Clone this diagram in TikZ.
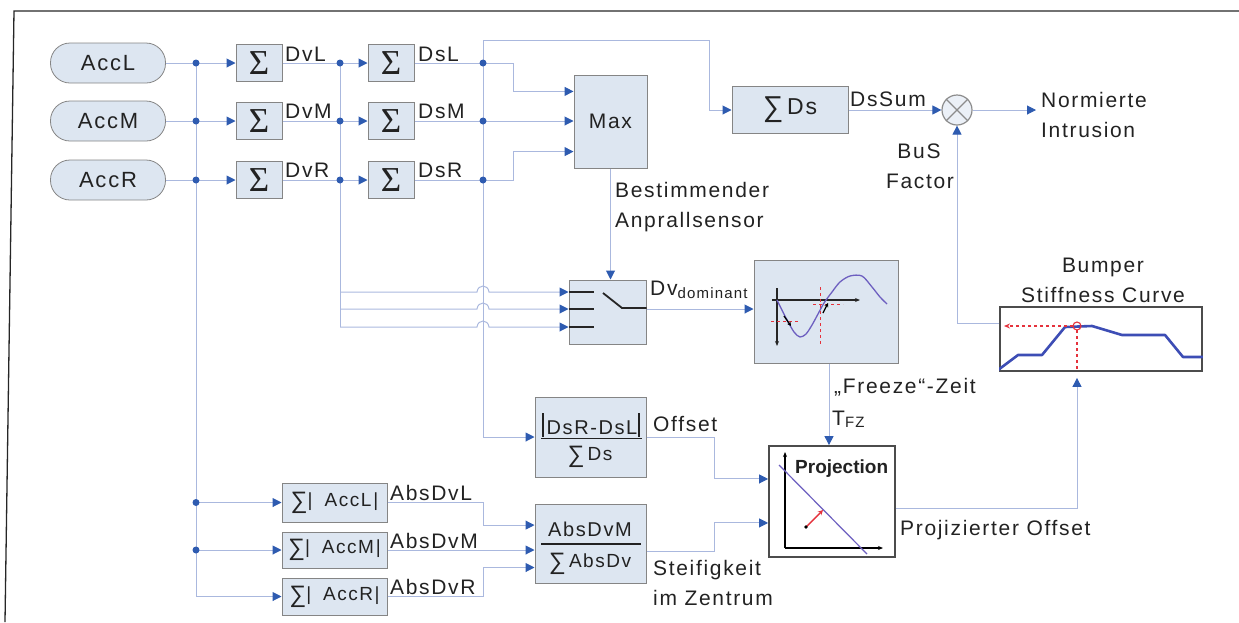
\documentclass[tikz,border=0pt]{standalone}
\usepackage{fontspec}
\usepackage{graphicx}
\setmainfont[LetterSpace=8]{Liberation Sans}
\newfontfamily\sigfont{Liberation Serif}
\newfontfamily\tightfont{Liberation Sans}
\usetikzlibrary{arrows.meta,calc}
\definecolor{wirec}{HTML}{AAB8DE}
\definecolor{arr}{HTML}{2E5BB0}
\definecolor{boxfill}{HTML}{DDE6F1}
\definecolor{boxdraw}{HTML}{858585}
\definecolor{txt}{HTML}{222222}
\definecolor{curve}{HTML}{6D5FC0}
\definecolor{bumpblue}{HTML}{3D4DB5}
\definecolor{redd}{HTML}{E5323C}
\newcommand{\fsz}[1]{\fontsize{#1}{#1}\selectfont}
\newcommand{\bigsum}{\raisebox{-2pt}{\scalebox{1.25}{∑}}}
\begin{document}
\begin{tikzpicture}[x=1pt,y=-1pt,
  inp/.style={draw=boxdraw, fill=boxfill, rounded corners=19.5pt, minimum width=115pt, minimum height=40pt, inner sep=0pt, line width=0.8pt, text=txt, font=\fsz{22}},
  blk/.style={draw=boxdraw, fill=boxfill, line width=1pt, inner sep=0pt, text=txt},
  sigbox/.style={blk, minimum width=46pt, minimum height=37pt, font=\sigfont\fsz{35}},
  absbox/.style={blk, minimum width=105pt, font=\fsz{19}},
  dark/.style={draw=black!70, line width=1.8pt, inner sep=0pt},
  wire/.style={draw=wirec, line width=1pt},
  arw/.style={wire, -{Triangle[length=9pt,width=9pt,color=arr]}},
  lbl/.style={inner sep=0pt, text=txt, font=\fsz{21}},
  tiny/.style={-{Stealth[length=5pt,width=4pt]}},
]
\useasboundingbox (0,0) rectangle (1239,622);
\draw[line width=1.3pt, black!85] (5,622) -- (14,11) -- (1239,11);

% ---------- nodes ----------
\node[inp] (accl) at (108,63) {AccL};
\node[inp] (accm) at (108,121) {AccM};
\node[inp] (accr) at (108,180) {AccR};

\node[sigbox] (s1l) at (259,63) {Σ};
\node[sigbox] (s1m) at (259,121) {Σ};
\node[sigbox] (s1r) at (259,180) {Σ};
\node[sigbox] (s2l) at (391,63) {Σ};
\node[sigbox] (s2m) at (391,121) {Σ};
\node[sigbox] (s2r) at (391,180) {Σ};

\node[blk, minimum width=73pt, minimum height=93pt, font=\fsz{21}] (max) at (610.5,121.5) {Max};
\node[blk, minimum width=116pt, minimum height=47pt, font=\fsz{23}] (sds) at (790,110) {\bigsum\,Ds};
\node[circle, draw=black!45, fill=boxfill!60, line width=1.2pt, minimum size=30pt, inner sep=0pt] (mul) at (957,110) {};
\draw[black!45, line width=1.2pt] (mul.north west) -- (mul.south east) (mul.north east) -- (mul.south west);

\node[blk, minimum width=77pt, minimum height=64pt] (sw) at (607.5,312) {};
\node[blk, minimum width=144pt, minimum height=103pt] (graph) at (826,311.5) {};
\node[dark, fill=white, minimum width=202pt, minimum height=64pt] (bump) at (1101,339) {};
\node[blk, minimum width=111pt, minimum height=80pt] (off) at (590.5,437) {};
\node[blk, minimum width=111pt, minimum height=79pt] (abm) at (590.5,543.5) {};
\node[dark, fill=white, minimum width=126pt, minimum height=111pt] (proj) at (832,501.5) {};

\node[absbox, minimum height=39pt] (sal) at (334.5,502.5) {\bigsum|\hspace{12pt}AccL\hspace{2pt}|};
\node[absbox, minimum height=36pt] (sam) at (334.5,550) {\bigsum|\hspace{12pt}AccM\hspace{2pt}|};
\node[absbox, minimum height=37pt] (sar) at (334.5,596.5) {\bigsum|\hspace{12pt}AccR|};

% ---------- junction coordinates ----------
\coordinate (j1l) at (196,63);  \coordinate (j1m) at (196,121); \coordinate (j1r) at (196,180);
\coordinate (j1a) at (196,502.5); \coordinate (j1b) at (196,550); \coordinate (j1c) at (196,596.5);
\coordinate (j2l) at (340,63);  \coordinate (j2m) at (340,121); \coordinate (j2r) at (340,180);
\coordinate (j2a) at (340,292); \coordinate (j2b) at (340,309); \coordinate (j2c) at (340,327);
\coordinate (j3t) at (483,40);  \coordinate (j3l) at (483,63);  \coordinate (j3m) at (483,121);
\coordinate (j3r) at (483,180); \coordinate (j3c) at (483,437);
\coordinate (fz) at (829,0);
\coordinate (nout) at (1036,110);

% ---------- wires ----------
\draw[wire] (accl) -- (j1l);
\draw[wire] (accm) -- (j1m);
\draw[wire] (accr) -- (j1r);
\draw[wire] (j1l) -- (j1c);
\draw[arw] (j1l) -- (s1l);
\draw[arw] (j1m) -- (s1m);
\draw[arw] (j1r) -- (s1r);
\draw[arw] (j1a) -- (sal);
\draw[arw] (j1b) -- (sam);
\draw[arw] (j1c) -- (sar);

\draw[wire] (s1l) -- (j2l);
\draw[wire] (s1m) -- (j2m);
\draw[wire] (s1r) -- (j2r);
\draw[wire] (j2l) -- (j2c);
\draw[arw] (j2l) -- (s2l);
\draw[arw] (j2m) -- (s2m);
\draw[arw] (j2r) -- (s2r);

\draw[wire] (s2l) -- (j3l);
\draw[wire] (s2m) -- (j3m);
\draw[wire] (s2r) -- (j3r);
\draw[wire] (j3t) -- (j3c);
\draw[arw] (j3t) -| ($(sds.west)+(-22,0)$) -- (sds.west);
\draw[arw] (j3l) -- ++(30,0) |- ($(max.north west)!0.18!(max.south west)$);
\draw[arw] (j3m) -- (max.west |- j3m);
\draw[arw] (j3r) -- ++(30,0) |- ($(max.north west)!0.82!(max.south west)$);
\draw[arw] (j3c) -- (off.west |- j3c);

\draw[arw] (max.south) -- (max.south |- sw.north);
\foreach \p in {j2a,j2b,j2c}{
  \draw[arw] (\p) -- ($(j3l |- \p)+(-6,0)$) .. controls +(1,-8) and +(-1,-8) .. ($(j3l |- \p)+(6,0)$) -- (sw.west |- \p);
}
\draw[arw] (sw.east |- j2b) -- (graph.west |- j2b);
\draw[arw] (graph.south -| fz) -- (proj.north -| fz);

\draw[arw] (sds) -- (mul);
\draw[arw] (mul) -- (nout);
\draw[arw] ($(bump.north west)!0.27!(bump.south west)$) -| (mul);

\draw[arw] (off.east) -- ++(68,0) |- ($(proj.north west)!0.3!(proj.south west)$);
\draw[arw] ($(abm.east)+(0,7.5)$) -- ++(68,0) |- ($(proj.north west)!0.69!(proj.south west)$);
\draw[arw, shorten >=6pt] ($(proj.east)+(0,6.5)$) -| ($(bump.south)+(-24,0)$);

\draw[arw] (sal.east) -- ++(96,0) |- ($(abm.north west)!0.27!(abm.south west)$);
\draw[arw] (sam.east) -- (abm.west |- sam.east);
\draw[arw] (sar.east) -- ++(96,0) |- ($(abm.north west)!0.8!(abm.south west)$);

\foreach \p in {j1l,j1m,j1r,j1a,j1b,j2l,j2m,j2r,j3l,j3m,j3r}
  \fill[arr] (\p) circle (3.5pt);

% ---------- switch interior ----------
\foreach \p in {j2a,j2b,j2c}
  \draw[black!85, line width=1.8pt] (sw.west |- \p) -- ++(25,0);
\draw[black!85, line width=1.8pt] (603,293) -- (622,308) -- (sw.east |- 0,308);

% ---------- graph interior ----------
\draw[black!85, line width=1.3pt, tiny] (777,288) -- (777,346);
\draw[black!85, line width=1.3pt, tiny] (772,300) -- (860,300);
\draw[redd, dashed, line width=1pt] (820,287) -- (820,346);
\draw[redd, dashed, line width=1pt] (771,321) -- (799,321);
\draw[redd, dashed, line width=1pt] (813,304) -- (843,304);
\draw[curve, line width=1.3pt] plot[smooth] coordinates {(777,300) (786,318) (794,332) (800,337) (806,334) (812,325) (818,314) (824,303) (832,292) (840,282) (850,276) (862,276) (872,287) (880,297) (887,304)};
\draw[black, line width=1.3pt, -{Stealth[length=4pt,width=4pt]}] (784,316) -- (791,326);
\draw[black, line width=1.3pt, -{Stealth[length=4pt,width=4pt]}] (823,313) -- (828,303);

% ---------- bumper interior ----------
\begin{scope}
\clip (bump.south west) rectangle (bump.north east);
\draw[bumpblue, line width=2.6pt, line join=round] (998,370) -- (1018,355) -- (1042,355) -- (1065,327) -- (1092,326) -- (1122,335) -- (1165,335) -- (1183,357) -- (1204,357);
\end{scope}
\draw[redd, dashed, line width=1.3pt, -{Stealth[length=6pt,width=5pt]}] (1073,326) -- (1004,326);
\draw[redd, dashed, line width=1.3pt] (1077,330) -- (bump.south -| 1077,0);
\draw[redd, line width=1.1pt] (1077,326) circle (4pt);

% ---------- projection interior ----------
\draw[black, line width=1.3pt, tiny] (785,548) -- (785,452);
\draw[black, line width=1.3pt, tiny] (785,548) -- (883,548);
\draw[curve, line width=1.2pt] (779,465) -- (867,554);
\draw[redd, line width=1.4pt, -{Stealth[length=5pt,width=5pt]}] (806,527) -- (823,510);
\fill[black] (806,527) circle (1.8pt);
\node[inner sep=0pt, anchor=base west, font=\tightfont\fsz{19}\bfseries, text=txt] (projt) at (795,473) {Projection};

% ---------- fraction boxes ----------
\node[lbl, anchor=base, font=\fsz{20}] (offn) at (592,434) {DsR-DsL};
\draw[txt, line width=2.2pt] (543,413) -- (543,437) (639,413) -- (639,437);
\draw[txt, line width=1.4pt] (541,438.5) -- (642,438.5);
\node[lbl, anchor=base, font=\fsz{19}] (offd) at (590,460) {\bigsum\,Ds};

\node[lbl, anchor=base, font=\fsz{20}] (abmn) at (590,536) {AbsDvM};
\draw[txt, line width=1.4pt] (541,544) -- (641,544);
\node[lbl, anchor=base, font=\fsz{19}] (abmd) at (590,567) {\bigsum\,AbsDv};

% ---------- labels ----------
\node[lbl, anchor=base west] (ldvl) at (285,61) {DvL};
\node[lbl, anchor=base west] (ldvm) at (285,118) {DvM};
\node[lbl, anchor=base west] (ldvr) at (285,177) {DvR};
\node[lbl, anchor=base west] (ldsl) at (418,61) {DsL};
\node[lbl, anchor=base west] (ldsm) at (418,118) {DsM};
\node[lbl, anchor=base west] (ldsr) at (418,177) {DsR};
\node[lbl, anchor=base west] (ldss) at (850,106) {DsSum};
\node[lbl, anchor=base west] (lno1) at (1041,107) {Normierte};
\node[lbl, anchor=base west] (lno2) at (1041,137) {Intrusion};
\node[lbl, anchor=base] (lbu1) at (919,158) {BuS};
\node[lbl, anchor=base] (lbu2) at (920,188) {Factor};
\node[lbl, anchor=base west] (lbe1) at (615,197) {Bestimmender};
\node[lbl, anchor=base west] (lbe2) at (615,227) {Anprallsensor};
\node[lbl, anchor=base west] (ldvd) at (650,295) {Dv\raisebox{-3pt}{\fsz{15}dominant}};
\node[lbl, anchor=base] (lbs1) at (1103,272) {Bumper};
\node[lbl, anchor=base] (lbs2) at (1103,302) {Stiffness Curve};
\node[lbl, anchor=base west] (lfz1) at (834,393) {„Freeze“-Zeit};
\node[lbl, anchor=base west] (lfz2) at (832,425) {T\raisebox{-2pt}{\fsz{15}FZ}};
\node[lbl, anchor=base west] (loff) at (653,431) {Offset};
\node[lbl, anchor=base west] (lst1) at (653,575) {Steifigkeit};
\node[lbl, anchor=base west] (lst2) at (653,605) {im Zentrum};
\node[lbl, anchor=base west] (lpro) at (900,535) {Projizierter Offset};
\node[lbl, anchor=base west] (labl) at (390,500) {AbsDvL};
\node[lbl, anchor=base west] (labm) at (390,548) {AbsDvM};
\node[lbl, anchor=base west] (labr) at (390,594) {AbsDvR};
\end{tikzpicture}
\end{document}
